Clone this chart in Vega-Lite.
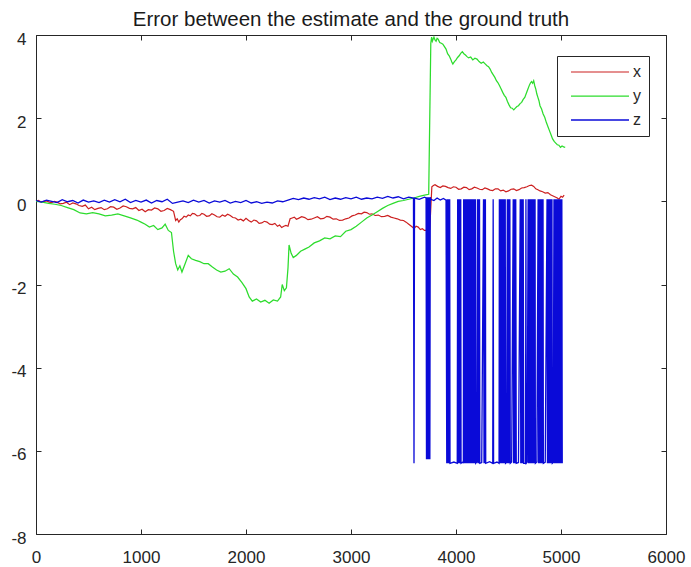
{
  "$schema": "https://vega.github.io/schema/vega-lite/v6.json",
  "width": 630,
  "height": 499,
  "autosize": {"type": "none"},
  "padding": {"left": 36, "top": 35, "right": 25, "bottom": 33},
  "background": "white",
  "title": {"text": "Error between the estimate and the ground truth", "fontSize": 20.5, "fontWeight": "normal", "font": "Liberation Sans", "color": "#1a1a1a", "offset": -16, "baseline": "alphabetic"},
  "config": {
    "view": {"stroke": null},
    "axis": {"font": "Liberation Sans", "labelFont": "Liberation Sans", "labelFontSize": 17, "labelColor": "#262626", "domainColor": "#262626", "tickColor": "#262626", "tickSize": -5, "grid": false, "title": null, "domainWidth": 1, "minExtent": 0, "labelExpr": "'' + datum.value"}
  },
  "data": {"values": [
    {"t":0,"s":"x","v":0},{"t":25,"s":"x","v":0.02},{"t":50,"s":"x","v":-0.02},{"t":75,"s":"x","v":0.0},{"t":100,"s":"x","v":0.01},{"t":125,"s":"x","v":-0.02},{"t":150,"s":"x","v":-0.03},{"t":175,"s":"x","v":0.0},{"t":200,"s":"x","v":-0.02},{"t":230,"s":"x","v":-0.06},{"t":260,"s":"x","v":-0.05},{"t":290,"s":"x","v":-0.02},{"t":320,"s":"x","v":-0.08},{"t":350,"s":"x","v":-0.04},{"t":380,"s":"x","v":-0.06},{"t":410,"s":"x","v":-0.1},{"t":440,"s":"x","v":-0.12},{"t":470,"s":"x","v":-0.09},{"t":500,"s":"x","v":-0.18},{"t":530,"s":"x","v":-0.14},{"t":560,"s":"x","v":-0.2},{"t":590,"s":"x","v":-0.17},{"t":620,"s":"x","v":-0.15},{"t":650,"s":"x","v":-0.2},{"t":680,"s":"x","v":-0.18},{"t":710,"s":"x","v":-0.13},{"t":740,"s":"x","v":-0.14},{"t":770,"s":"x","v":-0.19},{"t":800,"s":"x","v":-0.16},{"t":830,"s":"x","v":-0.11},{"t":860,"s":"x","v":-0.13},{"t":890,"s":"x","v":-0.17},{"t":920,"s":"x","v":-0.18},{"t":950,"s":"x","v":-0.15},{"t":980,"s":"x","v":-0.22},{"t":1010,"s":"x","v":-0.19},{"t":1040,"s":"x","v":-0.25},{"t":1070,"s":"x","v":-0.2},{"t":1100,"s":"x","v":-0.21},{"t":1130,"s":"x","v":-0.16},{"t":1160,"s":"x","v":-0.18},{"t":1190,"s":"x","v":-0.24},{"t":1220,"s":"x","v":-0.22},{"t":1250,"s":"x","v":-0.17},{"t":1280,"s":"x","v":-0.2},{"t":1310,"s":"x","v":-0.24},{"t":1330,"s":"x","v":-0.46},{"t":1345,"s":"x","v":-0.42},{"t":1360,"s":"x","v":-0.5},{"t":1375,"s":"x","v":-0.44},{"t":1390,"s":"x","v":-0.42},{"t":1410,"s":"x","v":-0.36},{"t":1430,"s":"x","v":-0.38},{"t":1450,"s":"x","v":-0.33},{"t":1470,"s":"x","v":-0.35},{"t":1490,"s":"x","v":-0.29},{"t":1510,"s":"x","v":-0.3},{"t":1535,"s":"x","v":-0.35},{"t":1560,"s":"x","v":-0.34},{"t":1580,"s":"x","v":-0.29},{"t":1600,"s":"x","v":-0.31},{"t":1625,"s":"x","v":-0.36},{"t":1650,"s":"x","v":-0.35},{"t":1675,"s":"x","v":-0.3},{"t":1700,"s":"x","v":-0.33},{"t":1725,"s":"x","v":-0.37},{"t":1750,"s":"x","v":-0.38},{"t":1775,"s":"x","v":-0.33},{"t":1800,"s":"x","v":-0.36},{"t":1825,"s":"x","v":-0.31},{"t":1850,"s":"x","v":-0.34},{"t":1875,"s":"x","v":-0.39},{"t":1900,"s":"x","v":-0.4},{"t":1925,"s":"x","v":-0.45},{"t":1950,"s":"x","v":-0.43},{"t":1975,"s":"x","v":-0.47},{"t":2000,"s":"x","v":-0.41},{"t":2025,"s":"x","v":-0.46},{"t":2050,"s":"x","v":-0.5},{"t":2075,"s":"x","v":-0.45},{"t":2100,"s":"x","v":-0.47},{"t":2125,"s":"x","v":-0.53},{"t":2150,"s":"x","v":-0.52},{"t":2175,"s":"x","v":-0.48},{"t":2200,"s":"x","v":-0.5},{"t":2225,"s":"x","v":-0.55},{"t":2250,"s":"x","v":-0.56},{"t":2275,"s":"x","v":-0.53},{"t":2300,"s":"x","v":-0.6},{"t":2320,"s":"x","v":-0.57},{"t":2340,"s":"x","v":-0.63},{"t":2360,"s":"x","v":-0.6},{"t":2380,"s":"x","v":-0.58},{"t":2400,"s":"x","v":-0.6},{"t":2420,"s":"x","v":-0.42},{"t":2440,"s":"x","v":-0.4},{"t":2460,"s":"x","v":-0.38},{"t":2480,"s":"x","v":-0.43},{"t":2500,"s":"x","v":-0.41},{"t":2530,"s":"x","v":-0.37},{"t":2560,"s":"x","v":-0.39},{"t":2590,"s":"x","v":-0.44},{"t":2620,"s":"x","v":-0.43},{"t":2650,"s":"x","v":-0.4},{"t":2680,"s":"x","v":-0.37},{"t":2710,"s":"x","v":-0.42},{"t":2740,"s":"x","v":-0.41},{"t":2770,"s":"x","v":-0.36},{"t":2800,"s":"x","v":-0.38},{"t":2830,"s":"x","v":-0.43},{"t":2860,"s":"x","v":-0.42},{"t":2890,"s":"x","v":-0.46},{"t":2920,"s":"x","v":-0.45},{"t":2950,"s":"x","v":-0.42},{"t":2980,"s":"x","v":-0.4},{"t":3010,"s":"x","v":-0.35},{"t":3040,"s":"x","v":-0.33},{"t":3070,"s":"x","v":-0.29},{"t":3100,"s":"x","v":-0.3},{"t":3125,"s":"x","v":-0.26},{"t":3150,"s":"x","v":-0.27},{"t":3175,"s":"x","v":-0.31},{"t":3200,"s":"x","v":-0.3},{"t":3230,"s":"x","v":-0.34},{"t":3260,"s":"x","v":-0.33},{"t":3290,"s":"x","v":-0.37},{"t":3320,"s":"x","v":-0.36},{"t":3350,"s":"x","v":-0.34},{"t":3380,"s":"x","v":-0.38},{"t":3410,"s":"x","v":-0.4},{"t":3440,"s":"x","v":-0.42},{"t":3470,"s":"x","v":-0.45},{"t":3500,"s":"x","v":-0.46},{"t":3525,"s":"x","v":-0.5},{"t":3550,"s":"x","v":-0.55},{"t":3575,"s":"x","v":-0.6},{"t":3600,"s":"x","v":-0.65},{"t":3620,"s":"x","v":-0.6},{"t":3640,"s":"x","v":-0.62},{"t":3660,"s":"x","v":-0.68},{"t":3680,"s":"x","v":-0.66},{"t":3700,"s":"x","v":-0.7},{"t":3720,"s":"x","v":-0.7},{"t":3750,"s":"x","v":-0.68},{"t":3770,"s":"x","v":0.35},{"t":3785,"s":"x","v":0.38},{"t":3800,"s":"x","v":0.4},{"t":3825,"s":"x","v":0.36},{"t":3850,"s":"x","v":0.33},{"t":3875,"s":"x","v":0.37},{"t":3900,"s":"x","v":0.36},{"t":3925,"s":"x","v":0.33},{"t":3950,"s":"x","v":0.31},{"t":3975,"s":"x","v":0.35},{"t":4000,"s":"x","v":0.34},{"t":4025,"s":"x","v":0.29},{"t":4050,"s":"x","v":0.3},{"t":4075,"s":"x","v":0.34},{"t":4100,"s":"x","v":0.33},{"t":4125,"s":"x","v":0.28},{"t":4150,"s":"x","v":0.3},{"t":4175,"s":"x","v":0.34},{"t":4200,"s":"x","v":0.32},{"t":4225,"s":"x","v":0.29},{"t":4250,"s":"x","v":0.28},{"t":4275,"s":"x","v":0.32},{"t":4300,"s":"x","v":0.3},{"t":4325,"s":"x","v":0.27},{"t":4350,"s":"x","v":0.26},{"t":4375,"s":"x","v":0.3},{"t":4400,"s":"x","v":0.3},{"t":4425,"s":"x","v":0.25},{"t":4450,"s":"x","v":0.27},{"t":4475,"s":"x","v":0.23},{"t":4500,"s":"x","v":0.25},{"t":4525,"s":"x","v":0.29},{"t":4550,"s":"x","v":0.3},{"t":4575,"s":"x","v":0.26},{"t":4600,"s":"x","v":0.28},{"t":4625,"s":"x","v":0.32},{"t":4650,"s":"x","v":0.33},{"t":4675,"s":"x","v":0.35},{"t":4700,"s":"x","v":0.38},{"t":4720,"s":"x","v":0.39},{"t":4740,"s":"x","v":0.36},{"t":4760,"s":"x","v":0.3},{"t":4780,"s":"x","v":0.28},{"t":4800,"s":"x","v":0.25},{"t":4825,"s":"x","v":0.23},{"t":4850,"s":"x","v":0.2},{"t":4875,"s":"x","v":0.21},{"t":4900,"s":"x","v":0.16},{"t":4925,"s":"x","v":0.13},{"t":4950,"s":"x","v":0.1},{"t":4965,"s":"x","v":0.08},{"t":4980,"s":"x","v":0.05},{"t":5000,"s":"x","v":0.12},{"t":5015,"s":"x","v":0.1},{"t":5030,"s":"x","v":0.15},

    {"t":0,"s":"y","v":0},{"t":60,"s":"y","v":-0.02},{"t":120,"s":"y","v":-0.05},{"t":180,"s":"y","v":-0.07},{"t":240,"s":"y","v":-0.1},{"t":300,"s":"y","v":-0.15},{"t":360,"s":"y","v":-0.2},{"t":420,"s":"y","v":-0.28},{"t":480,"s":"y","v":-0.3},{"t":540,"s":"y","v":-0.27},{"t":600,"s":"y","v":-0.3},{"t":660,"s":"y","v":-0.35},{"t":720,"s":"y","v":-0.33},{"t":780,"s":"y","v":-0.3},{"t":840,"s":"y","v":-0.35},{"t":900,"s":"y","v":-0.4},{"t":960,"s":"y","v":-0.45},{"t":1000,"s":"y","v":-0.5},{"t":1040,"s":"y","v":-0.55},{"t":1080,"s":"y","v":-0.62},{"t":1120,"s":"y","v":-0.58},{"t":1160,"s":"y","v":-0.68},{"t":1200,"s":"y","v":-0.64},{"t":1230,"s":"y","v":-0.55},{"t":1260,"s":"y","v":-0.7},{"t":1290,"s":"y","v":-0.75},{"t":1310,"s":"y","v":-1.2},{"t":1330,"s":"y","v":-1.5},{"t":1350,"s":"y","v":-1.65},{"t":1370,"s":"y","v":-1.55},{"t":1390,"s":"y","v":-1.7},{"t":1420,"s":"y","v":-1.5},{"t":1450,"s":"y","v":-1.3},{"t":1480,"s":"y","v":-1.38},{"t":1520,"s":"y","v":-1.42},{"t":1560,"s":"y","v":-1.45},{"t":1600,"s":"y","v":-1.5},{"t":1640,"s":"y","v":-1.5},{"t":1680,"s":"y","v":-1.58},{"t":1720,"s":"y","v":-1.65},{"t":1760,"s":"y","v":-1.7},{"t":1800,"s":"y","v":-1.68},{"t":1840,"s":"y","v":-1.62},{"t":1880,"s":"y","v":-1.75},{"t":1920,"s":"y","v":-1.82},{"t":1960,"s":"y","v":-1.95},{"t":2000,"s":"y","v":-2.1},{"t":2030,"s":"y","v":-2.3},{"t":2060,"s":"y","v":-2.4},{"t":2100,"s":"y","v":-2.35},{"t":2140,"s":"y","v":-2.42},{"t":2180,"s":"y","v":-2.38},{"t":2220,"s":"y","v":-2.45},{"t":2260,"s":"y","v":-2.37},{"t":2300,"s":"y","v":-2.4},{"t":2330,"s":"y","v":-2.3},{"t":2345,"s":"y","v":-2.0},{"t":2365,"s":"y","v":-2.15},{"t":2385,"s":"y","v":-2.08},{"t":2400,"s":"y","v":-1.6},{"t":2410,"s":"y","v":-1.05},{"t":2430,"s":"y","v":-1.25},{"t":2450,"s":"y","v":-1.35},{"t":2480,"s":"y","v":-1.3},{"t":2520,"s":"y","v":-1.2},{"t":2560,"s":"y","v":-1.15},{"t":2600,"s":"y","v":-1.1},{"t":2650,"s":"y","v":-1.0},{"t":2700,"s":"y","v":-0.95},{"t":2750,"s":"y","v":-0.88},{"t":2800,"s":"y","v":-0.9},{"t":2850,"s":"y","v":-0.83},{"t":2900,"s":"y","v":-0.85},{"t":2950,"s":"y","v":-0.72},{"t":3000,"s":"y","v":-0.68},{"t":3050,"s":"y","v":-0.6},{"t":3100,"s":"y","v":-0.5},{"t":3150,"s":"y","v":-0.4},{"t":3200,"s":"y","v":-0.33},{"t":3250,"s":"y","v":-0.25},{"t":3300,"s":"y","v":-0.17},{"t":3350,"s":"y","v":-0.1},{"t":3400,"s":"y","v":-0.05},{"t":3450,"s":"y","v":0},{"t":3500,"s":"y","v":0.02},{"t":3550,"s":"y","v":0.05},{"t":3600,"s":"y","v":0.08},{"t":3650,"s":"y","v":0.12},{"t":3700,"s":"y","v":0.15},{"t":3740,"s":"y","v":0.17},
    {"t":3760,"s":"y","v":3.8},{"t":3768,"s":"y","v":3.95},{"t":3775,"s":"y","v":3.85},{"t":3790,"s":"y","v":3.95},{"t":3800,"s":"y","v":3.88},{"t":3810,"s":"y","v":3.85},{"t":3820,"s":"y","v":3.92},{"t":3830,"s":"y","v":3.9},{"t":3845,"s":"y","v":3.82},{"t":3860,"s":"y","v":3.8},{"t":3875,"s":"y","v":3.78},{"t":3890,"s":"y","v":3.72},{"t":3905,"s":"y","v":3.66},{"t":3920,"s":"y","v":3.55},{"t":3935,"s":"y","v":3.5},{"t":3950,"s":"y","v":3.42},{"t":3960,"s":"y","v":3.35},{"t":3970,"s":"y","v":3.3},{"t":3985,"s":"y","v":3.36},{"t":4000,"s":"y","v":3.4},{"t":4015,"s":"y","v":3.46},{"t":4030,"s":"y","v":3.5},{"t":4045,"s":"y","v":3.56},{"t":4060,"s":"y","v":3.6},{"t":4075,"s":"y","v":3.55},{"t":4090,"s":"y","v":3.52},{"t":4105,"s":"y","v":3.48},{"t":4120,"s":"y","v":3.45},{"t":4140,"s":"y","v":3.47},{"t":4160,"s":"y","v":3.4},{"t":4180,"s":"y","v":3.44},{"t":4200,"s":"y","v":3.42},{"t":4220,"s":"y","v":3.36},{"t":4240,"s":"y","v":3.32},{"t":4260,"s":"y","v":3.35},{"t":4280,"s":"y","v":3.3},{"t":4295,"s":"y","v":3.26},{"t":4310,"s":"y","v":3.24},{"t":4325,"s":"y","v":3.18},{"t":4340,"s":"y","v":3.1},{"t":4355,"s":"y","v":3.04},{"t":4370,"s":"y","v":2.98},{"t":4385,"s":"y","v":2.9},{"t":4400,"s":"y","v":2.85},{"t":4415,"s":"y","v":2.78},{"t":4430,"s":"y","v":2.7},{"t":4445,"s":"y","v":2.62},{"t":4460,"s":"y","v":2.55},{"t":4475,"s":"y","v":2.5},{"t":4490,"s":"y","v":2.4},{"t":4505,"s":"y","v":2.32},{"t":4520,"s":"y","v":2.25},{"t":4535,"s":"y","v":2.24},{"t":4550,"s":"y","v":2.2},{"t":4565,"s":"y","v":2.24},{"t":4580,"s":"y","v":2.28},{"t":4595,"s":"y","v":2.3},{"t":4610,"s":"y","v":2.35},{"t":4625,"s":"y","v":2.38},{"t":4640,"s":"y","v":2.45},{"t":4655,"s":"y","v":2.5},{"t":4670,"s":"y","v":2.6},{"t":4685,"s":"y","v":2.7},{"t":4700,"s":"y","v":2.8},{"t":4710,"s":"y","v":2.85},{"t":4720,"s":"y","v":2.88},{"t":4730,"s":"y","v":2.84},{"t":4740,"s":"y","v":2.9},{"t":4750,"s":"y","v":2.78},{"t":4760,"s":"y","v":2.7},{"t":4770,"s":"y","v":2.58},{"t":4780,"s":"y","v":2.5},{"t":4790,"s":"y","v":2.42},{"t":4800,"s":"y","v":2.3},{"t":4815,"s":"y","v":2.22},{"t":4830,"s":"y","v":2.1},{"t":4845,"s":"y","v":2.02},{"t":4860,"s":"y","v":1.9},{"t":4875,"s":"y","v":1.8},{"t":4890,"s":"y","v":1.7},{"t":4905,"s":"y","v":1.6},{"t":4920,"s":"y","v":1.5},{"t":4935,"s":"y","v":1.44},{"t":4950,"s":"y","v":1.4},{"t":4965,"s":"y","v":1.36},{"t":4980,"s":"y","v":1.35},{"t":4995,"s":"y","v":1.3},{"t":5010,"s":"y","v":1.33},{"t":5025,"s":"y","v":1.31},{"t":5040,"s":"y","v":1.3},

    {"t":0,"s":"z","v":0.02},{"t":50,"s":"z","v":-0.02},{"t":100,"s":"z","v":0.03},{"t":150,"s":"z","v":0.0},{"t":200,"s":"z","v":-0.03},{"t":250,"s":"z","v":0.04},{"t":300,"s":"z","v":-0.01},{"t":350,"s":"z","v":0.02},{"t":400,"s":"z","v":-0.04},{"t":450,"s":"z","v":0.03},{"t":500,"s":"z","v":-0.02},{"t":550,"s":"z","v":0.01},{"t":600,"s":"z","v":-0.03},{"t":650,"s":"z","v":0.03},{"t":700,"s":"z","v":-0.02},{"t":750,"s":"z","v":0.04},{"t":800,"s":"z","v":-0.01},{"t":850,"s":"z","v":0.05},{"t":900,"s":"z","v":-0.03},{"t":950,"s":"z","v":0.02},{"t":1000,"s":"z","v":-0.02},{"t":1050,"s":"z","v":0.03},{"t":1100,"s":"z","v":-0.04},{"t":1150,"s":"z","v":0.02},{"t":1200,"s":"z","v":-0.01},{"t":1250,"s":"z","v":0.05},{"t":1300,"s":"z","v":-0.05},{"t":1350,"s":"z","v":-0.02},{"t":1400,"s":"z","v":0.01},{"t":1450,"s":"z","v":-0.03},{"t":1500,"s":"z","v":0.03},{"t":1550,"s":"z","v":-0.02},{"t":1600,"s":"z","v":0.02},{"t":1650,"s":"z","v":-0.04},{"t":1700,"s":"z","v":0.01},{"t":1750,"s":"z","v":-0.02},{"t":1800,"s":"z","v":0.02},{"t":1850,"s":"z","v":-0.04},{"t":1900,"s":"z","v":0.0},{"t":1950,"s":"z","v":-0.03},{"t":2000,"s":"z","v":0.02},{"t":2050,"s":"z","v":-0.04},{"t":2100,"s":"z","v":-0.01},{"t":2150,"s":"z","v":-0.05},{"t":2200,"s":"z","v":-0.02},{"t":2250,"s":"z","v":-0.04},{"t":2300,"s":"z","v":0.01},{"t":2350,"s":"z","v":-0.01},{"t":2400,"s":"z","v":0.03},{"t":2450,"s":"z","v":0.07},{"t":2500,"s":"z","v":0.04},{"t":2550,"s":"z","v":0.08},{"t":2600,"s":"z","v":0.05},{"t":2650,"s":"z","v":0.09},{"t":2700,"s":"z","v":0.06},{"t":2750,"s":"z","v":0.1},{"t":2800,"s":"z","v":0.04},{"t":2850,"s":"z","v":0.08},{"t":2900,"s":"z","v":0.05},{"t":2950,"s":"z","v":0.09},{"t":3000,"s":"z","v":0.06},{"t":3050,"s":"z","v":0.1},{"t":3100,"s":"z","v":0.05},{"t":3150,"s":"z","v":0.08},{"t":3200,"s":"z","v":0.06},{"t":3250,"s":"z","v":0.1},{"t":3300,"s":"z","v":0.07},{"t":3350,"s":"z","v":0.12},{"t":3400,"s":"z","v":0.08},{"t":3450,"s":"z","v":0.11},{"t":3500,"s":"z","v":0.06},{"t":3550,"s":"z","v":0.1},{"t":3595,"s":"z","v":0.08},{"t":3600,"s":"z","v":-6.3},{"t":3605,"s":"z","v":0.08},{"t":3650,"s":"z","v":0.05},{"t":3700,"s":"z","v":0.1},{"t":3715,"s":"z","v":0.08},{"t":3719,"s":"z","v":-6.2},{"t":3723,"s":"z","v":0.1},{"t":3727,"s":"z","v":-6.2},{"t":3731,"s":"z","v":0.1},{"t":3735,"s":"z","v":-6.2},{"t":3739,"s":"z","v":0.1},{"t":3743,"s":"z","v":-6.2},{"t":3747,"s":"z","v":0.1},{"t":3751,"s":"z","v":-6.2},{"t":3755,"s":"z","v":0.1},{"t":3760,"s":"z","v":0.05},{"t":3790,"s":"z","v":0.02},{"t":3820,"s":"z","v":0.08},{"t":3850,"s":"z","v":0.03},{"t":3880,"s":"z","v":0.07},{"t":3905,"s":"z","v":0.03},
    {"t":3912,"s":"z","v":-6.3},{"t":3916,"s":"z","v":0.05},{"t":3920,"s":"z","v":-6.3},{"t":3924,"s":"z","v":0.05},{"t":3928,"s":"z","v":-6.3},{"t":3932,"s":"z","v":0.05},{"t":3936,"s":"z","v":-6.3},{"t":3940,"s":"z","v":0.05},{"t":3943,"s":"z","v":-6.3},{"t":3980,"s":"z","v":-6.27},{"t":4012,"s":"z","v":-6.3},
    {"t":4016,"s":"z","v":0.05},{"t":4021,"s":"z","v":-6.3},{"t":4026,"s":"z","v":0.05},{"t":4031,"s":"z","v":-6.3},{"t":4036,"s":"z","v":0.05},{"t":4041,"s":"z","v":-6.3},{"t":4045,"s":"z","v":0.05},{"t":4048,"s":"z","v":-6.3},{"t":4065,"s":"z","v":-6.27},{"t":4070,"s":"z","v":-6.3},
    {"t":4073,"s":"z","v":0.05},{"t":4077,"s":"z","v":-6.3},{"t":4081,"s":"z","v":0.05},{"t":4085,"s":"z","v":-6.3},{"t":4089,"s":"z","v":0.05},{"t":4093,"s":"z","v":-6.3},{"t":4097,"s":"z","v":0.05},{"t":4101,"s":"z","v":-6.3},{"t":4105,"s":"z","v":0.05},{"t":4109,"s":"z","v":-6.3},{"t":4113,"s":"z","v":0.05},{"t":4117,"s":"z","v":-6.3},{"t":4121,"s":"z","v":0.05},{"t":4125,"s":"z","v":-6.3},{"t":4129,"s":"z","v":0.05},{"t":4133,"s":"z","v":-6.3},{"t":4137,"s":"z","v":0.05},{"t":4141,"s":"z","v":-6.3},{"t":4145,"s":"z","v":0.05},{"t":4149,"s":"z","v":-6.3},{"t":4153,"s":"z","v":0.05},{"t":4157,"s":"z","v":-6.3},{"t":4161,"s":"z","v":0.05},{"t":4165,"s":"z","v":-6.3},{"t":4169,"s":"z","v":0.05},{"t":4173,"s":"z","v":-6.3},{"t":4177,"s":"z","v":0.05},{"t":4181,"s":"z","v":-6.3},{"t":4185,"s":"z","v":0.05},{"t":4188,"s":"z","v":-6.3},{"t":4198,"s":"z","v":-6.27},
    {"t":4205,"s":"z","v":0.05},{"t":4210,"s":"z","v":-6.3},{"t":4215,"s":"z","v":0.05},{"t":4220,"s":"z","v":-6.3},{"t":4224,"s":"z","v":0.05},{"t":4227,"s":"z","v":-6.3},{"t":4245,"s":"z","v":-6.28},
    {"t":4262,"s":"z","v":0.05},{"t":4267,"s":"z","v":-6.3},{"t":4272,"s":"z","v":0.05},{"t":4277,"s":"z","v":-6.3},{"t":4280,"s":"z","v":0.05},{"t":4283,"s":"z","v":-6.3},{"t":4320,"s":"z","v":-6.26},{"t":4350,"s":"z","v":-6.3},
    {"t":4354,"s":"z","v":0.05},{"t":4358,"s":"z","v":-6.3},{"t":4390,"s":"z","v":-6.27},{"t":4410,"s":"z","v":-6.3},
    {"t":4413,"s":"z","v":0.05},{"t":4417,"s":"z","v":-6.3},{"t":4421,"s":"z","v":0.05},{"t":4425,"s":"z","v":-6.3},{"t":4429,"s":"z","v":0.05},{"t":4433,"s":"z","v":-6.3},{"t":4437,"s":"z","v":0.05},{"t":4441,"s":"z","v":-6.3},{"t":4445,"s":"z","v":0.05},{"t":4449,"s":"z","v":-6.3},{"t":4453,"s":"z","v":0.05},{"t":4457,"s":"z","v":-6.3},{"t":4461,"s":"z","v":0.05},{"t":4465,"s":"z","v":-6.3},{"t":4469,"s":"z","v":0.05},{"t":4472,"s":"z","v":-6.3},{"t":4482,"s":"z","v":-6.28},
    {"t":4489,"s":"z","v":0.05},{"t":4493,"s":"z","v":-6.3},{"t":4497,"s":"z","v":0.05},{"t":4501,"s":"z","v":-6.3},{"t":4505,"s":"z","v":0.05},{"t":4509,"s":"z","v":-6.3},{"t":4513,"s":"z","v":0.05},{"t":4517,"s":"z","v":-6.3},{"t":4530,"s":"z","v":-6.27},
    {"t":4545,"s":"z","v":0.05},{"t":4549,"s":"z","v":-6.3},{"t":4553,"s":"z","v":0.05},{"t":4557,"s":"z","v":-6.3},{"t":4561,"s":"z","v":0.05},{"t":4565,"s":"z","v":-6.3},{"t":4569,"s":"z","v":0.05},{"t":4574,"s":"z","v":-6.3},{"t":4595,"s":"z","v":-6.28},
    {"t":4612,"s":"z","v":0.05},{"t":4617,"s":"z","v":-6.3},{"t":4622,"s":"z","v":0.05},{"t":4627,"s":"z","v":-6.3},{"t":4630,"s":"z","v":0.05},{"t":4633,"s":"z","v":-6.3},
    {"t":4640,"s":"z","v":0.05},{"t":4645,"s":"z","v":-6.3},{"t":4662,"s":"z","v":-6.3},{"t":4666,"s":"z","v":0.05},{"t":4669,"s":"z","v":-6.3},{"t":4678,"s":"z","v":-6.27},
    {"t":4687,"s":"z","v":0.05},{"t":4691,"s":"z","v":-6.3},{"t":4695,"s":"z","v":0.05},{"t":4699,"s":"z","v":-6.3},{"t":4703,"s":"z","v":0.05},{"t":4707,"s":"z","v":-6.3},{"t":4711,"s":"z","v":0.05},{"t":4715,"s":"z","v":-6.3},{"t":4719,"s":"z","v":0.05},{"t":4723,"s":"z","v":-6.3},{"t":4726,"s":"z","v":0.05},{"t":4729,"s":"z","v":-6.3},
    {"t":4734,"s":"z","v":0.05},{"t":4739,"s":"z","v":-6.3},{"t":4744,"s":"z","v":0.05},{"t":4749,"s":"z","v":-6.3},{"t":4753,"s":"z","v":0.05},{"t":4756,"s":"z","v":-6.3},{"t":4770,"s":"z","v":-6.27},
    {"t":4782,"s":"z","v":0.05},{"t":4786,"s":"z","v":-6.3},{"t":4790,"s":"z","v":0.05},{"t":4794,"s":"z","v":-6.3},{"t":4798,"s":"z","v":0.05},{"t":4802,"s":"z","v":-6.3},{"t":4806,"s":"z","v":0.05},{"t":4810,"s":"z","v":-6.3},{"t":4814,"s":"z","v":0.05},{"t":4818,"s":"z","v":-6.3},{"t":4822,"s":"z","v":0.05},{"t":4826,"s":"z","v":-6.3},{"t":4829,"s":"z","v":0.05},{"t":4832,"s":"z","v":-6.3},{"t":4850,"s":"z","v":-6.27},
    {"t":4867,"s":"z","v":0.05},{"t":4871,"s":"z","v":-6.3},{"t":4875,"s":"z","v":0.05},{"t":4879,"s":"z","v":-6.3},{"t":4883,"s":"z","v":0.05},{"t":4887,"s":"z","v":-6.3},{"t":4891,"s":"z","v":0.05},{"t":4895,"s":"z","v":-6.3},{"t":4899,"s":"z","v":0.05},{"t":4903,"s":"z","v":-6.3},{"t":4907,"s":"z","v":0.05},{"t":4911,"s":"z","v":-6.3},{"t":4914,"s":"z","v":0.05},{"t":4917,"s":"z","v":-6.3},{"t":4926,"s":"z","v":-6.28},
    {"t":4933,"s":"z","v":0.05},{"t":4937,"s":"z","v":-6.3},{"t":4941,"s":"z","v":0.05},{"t":4945,"s":"z","v":-6.3},{"t":4949,"s":"z","v":0.05},{"t":4953,"s":"z","v":-6.3},{"t":4957,"s":"z","v":0.05},{"t":4961,"s":"z","v":-6.3},{"t":4965,"s":"z","v":0.05},{"t":4969,"s":"z","v":-6.3},{"t":4973,"s":"z","v":0.05},{"t":4977,"s":"z","v":-6.3},{"t":4981,"s":"z","v":0.05},{"t":4985,"s":"z","v":-6.3},{"t":4989,"s":"z","v":0.05},{"t":4992,"s":"z","v":-6.3},
    {"t":5000,"s":"z","v":0.05},{"t":5004,"s":"z","v":-6.3},{"t":5008,"s":"z","v":0.05},{"t":5012,"s":"z","v":-6.3}
  ]},
  "layer": [
    {
      "mark": {"type": "line", "interpolate": "linear"},
      "encoding": {
        "x": {"field": "t", "type": "quantitative", "scale": {"domain": [0, 6000], "nice": false, "zero": false}, "axis": {"orient": "bottom", "values": [0,1000,2000,3000,4000,5000,6000], "labelPadding": 20, "labelFlush": false}},
        "y": {"field": "v", "type": "quantitative", "scale": {"domain": [-8, 4], "nice": false, "zero": false}, "axis": {"orient": "left", "values": [-8,-6,-4,-2,0,2,4], "labelPadding": 15, "labelOffset": 4, "labelFlush": false}},
        "color": {"field": "s", "type": "nominal", "scale": {"domain": ["x","y","z"], "range": ["#cc2020", "#2ddc2d", "#0a0ad8"]},
          "legend": {"title": null, "orient": "none", "legendX": 521, "legendY": 21, "symbolType": "M-1,0H10.6", "symbolSize": 100, "symbolStrokeWidth": 1.4, "symbolOffset": 3, "labelFont": "Liberation Sans", "labelFontSize": 16, "labelColor": "#262626", "strokeColor": "#262626", "fillColor": "white", "padding": 8, "rowPadding": 8, "labelOffset": 49}},
        "strokeWidth": {"field": "s", "type": "nominal", "scale": {"domain": ["x","y","z"], "range": [1.2, 1.3, 1.6]}, "legend": null},
        "order": {"field": "t", "type": "quantitative"}
      }
    },
    {
      "mark": {"type": "point", "opacity": 0},
      "encoding": {
        "x": {"field": "t", "type": "quantitative", "scale": {"domain": [0, 6000], "nice": false, "zero": false}, "axis": {"orient": "top", "values": [0,1000,2000,3000,4000,5000,6000], "labels": false}},
        "y": {"field": "v", "type": "quantitative", "scale": {"domain": [-8, 4], "nice": false, "zero": false}, "axis": {"orient": "right", "values": [-8,-6,-4,-2,0,2,4], "labels": false}}
      }
    }
  ],
  "resolve": {"axis": {"x": "independent", "y": "independent"}}
}
